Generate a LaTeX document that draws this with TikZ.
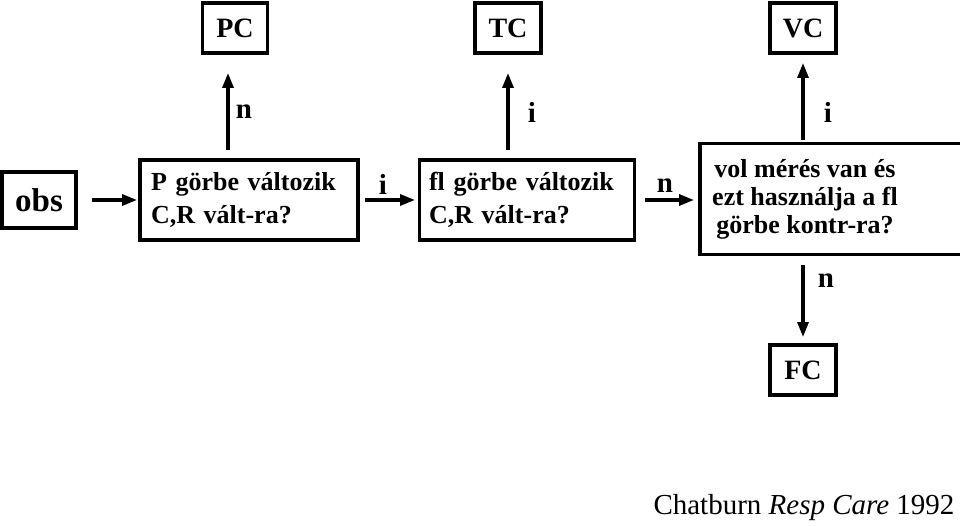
\documentclass[tikz,border=0pt]{standalone}
\usepackage{fontspec}
\setmainfont{Liberation Serif}
\usetikzlibrary{arrows.meta}
\tikzset{
  box/.style={draw,line width=3.2pt,inner sep=0pt,font=\bfseries\fontsize{26}{33}\selectfont},
  lbl/.style={font=\bfseries\fontsize{29}{30}\selectfont},
  arr/.style={line width=3.2pt,-{Triangle[length=15pt,width=11pt]}}
}
\begin{document}
\begin{tikzpicture}[x=1pt,y=-1pt]
\useasboundingbox (0,0) rectangle (960,526);
% boxes
\node[box,minimum width=74pt,minimum height=56pt,font=\bfseries\fontsize{33}{33}\selectfont] (obs) at (39,200) {obs};
\node[box,minimum width=218pt,minimum height=80pt,align=left,text width=196pt] (p) at (249,200) {P görbe változik\\C,R vált-ra?};
\node[box,minimum width=215pt,minimum height=80pt,align=left,text width=196pt] (fl) at (527,200) {fl görbe változik\\C,R vált-ra?};
\node[box,minimum width=264pt,minimum height=111pt] (vol) at (832,199) {};
\node[font=\bfseries\fontsize{26}{28}\selectfont,align=center] (voltext) at (805,199) {vol mérés van és\\ezt használja a fl\\görbe kontr-ra?};
\node[box,minimum width=65pt,minimum height=50pt,font=\bfseries\fontsize{28}{30}\selectfont] (pc) at (235,28) {PC};
\node[box,minimum width=66pt,minimum height=50pt,font=\bfseries\fontsize{28}{30}\selectfont] (tc) at (508,28) {TC};
\node[box,minimum width=66pt,minimum height=50pt,font=\bfseries\fontsize{28}{30}\selectfont] (vc) at (803,28) {VC};
\node[box,minimum width=66pt,minimum height=50pt,font=\bfseries\fontsize{28}{30}\selectfont] (fc) at (803,370) {FC};
% coordinates for arrows
\coordinate (a1) at (92,200);  \coordinate (a2) at (137,200);
\coordinate (b1) at (365,200); \coordinate (b2) at (415,200);
\coordinate (c1) at (645,200); \coordinate (c2) at (694,200);
\coordinate (u1) at (228,150); \coordinate (u2) at (228,73);
\coordinate (v1) at (508,150); \coordinate (v2) at (508,73);
\coordinate (w1) at (803,140); \coordinate (w2) at (803,63);
\coordinate (d1) at (803,265); \coordinate (d2) at (803,337);
\draw[arr] (a1) -- (a2);
\draw[arr] (b1) -- (b2);
\draw[arr] (c1) -- (c2);
\draw[arr] (u1) -- (u2);
\draw[arr] (v1) -- (v2);
\draw[arr] (w1) -- (w2);
\draw[arr] (d1) -- (d2);
% labels
\node[lbl] (ln1) at (244,112) {n};
\node[lbl] (li1) at (532,112) {i};
\node[lbl] (li2) at (828,112) {i};
\node[lbl] (li3) at (383,184) {i};
\node[lbl] (ln2) at (665,186) {n};
\node[lbl] (ln3) at (826,281) {n};
\node[font=\fontsize{29}{32}\selectfont,anchor=east] (cite) at (958,508) {Chatburn \textit{Resp Care} 1992};
\end{tikzpicture}
\end{document}
